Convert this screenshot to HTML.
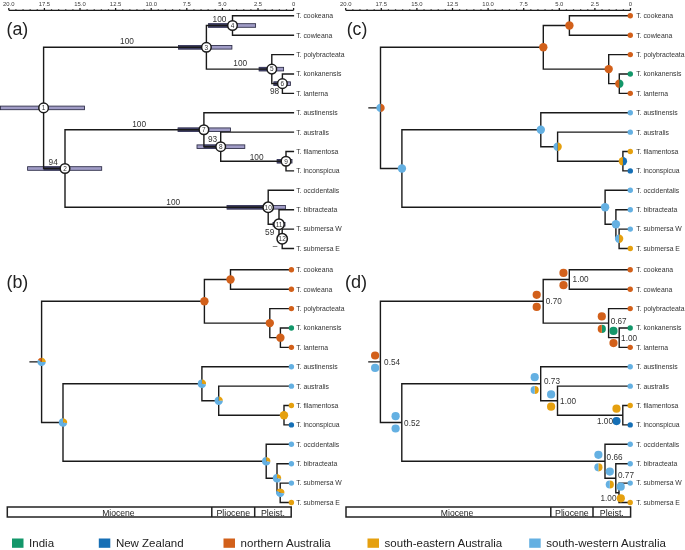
<!DOCTYPE html>
<html><head><meta charset="utf-8"><style>
html,body{margin:0;padding:0;background:#fff;}
body{width:685px;height:550px;overflow:hidden;font-family:"Liberation Sans",sans-serif;}
svg{display:block;will-change:transform;}
</style></head><body>
<svg width="685" height="550" viewBox="0 0 685 550" font-family="'Liberation Sans', sans-serif">
<rect width="685" height="550" fill="#fff"/>
<path d="M8.80 10.30H293.60M8.80 10.30V8.10M15.92 10.30V9.20M23.04 10.30V9.20M30.16 10.30V9.20M37.28 10.30V9.20M44.40 10.30V8.10M51.52 10.30V9.20M58.64 10.30V9.20M65.76 10.30V9.20M72.88 10.30V9.20M80.00 10.30V8.10M87.12 10.30V9.20M94.24 10.30V9.20M101.36 10.30V9.20M108.48 10.30V9.20M115.60 10.30V8.10M122.72 10.30V9.20M129.84 10.30V9.20M136.96 10.30V9.20M144.08 10.30V9.20M151.20 10.30V8.10M158.32 10.30V9.20M165.44 10.30V9.20M172.56 10.30V9.20M179.68 10.30V9.20M186.80 10.30V8.10M193.92 10.30V9.20M201.04 10.30V9.20M208.16 10.30V9.20M215.28 10.30V9.20M222.40 10.30V8.10M229.52 10.30V9.20M236.64 10.30V9.20M243.76 10.30V9.20M250.88 10.30V9.20M258.00 10.30V8.10M265.12 10.30V9.20M272.24 10.30V9.20M279.36 10.30V9.20M286.48 10.30V9.20M293.60 10.30V8.10" fill="none" stroke="#1a1a1a" stroke-width="1.25"/>
<text x="8.80" y="5.70" font-size="5.9" text-anchor="middle" fill="#3a3a3a">20.0</text>
<text x="44.40" y="5.70" font-size="5.9" text-anchor="middle" fill="#3a3a3a">17.5</text>
<text x="80.00" y="5.70" font-size="5.9" text-anchor="middle" fill="#3a3a3a">15.0</text>
<text x="115.60" y="5.70" font-size="5.9" text-anchor="middle" fill="#3a3a3a">12.5</text>
<text x="151.20" y="5.70" font-size="5.9" text-anchor="middle" fill="#3a3a3a">10.0</text>
<text x="186.80" y="5.70" font-size="5.9" text-anchor="middle" fill="#3a3a3a">7.5</text>
<text x="222.40" y="5.70" font-size="5.9" text-anchor="middle" fill="#3a3a3a">5.0</text>
<text x="258.00" y="5.70" font-size="5.9" text-anchor="middle" fill="#3a3a3a">2.5</text>
<text x="293.60" y="5.70" font-size="5.9" text-anchor="middle" fill="#3a3a3a">0</text>
<text x="6.50" y="35.20" font-size="17.5" text-anchor="start" fill="#222" textLength="21.8" lengthAdjust="spacingAndGlyphs">(a)</text>
<rect x="0.50" y="106.10" width="84.00" height="3.60" fill="#a09cc6" stroke="#2a2a44" stroke-width="0.85"/>
<rect x="27.60" y="166.70" width="74.10" height="3.60" fill="#a09cc6" stroke="#2a2a44" stroke-width="0.85"/>
<rect x="43.60" y="166.50" width="21.40" height="4.00" fill="#3e3e64"/>
<rect x="178.50" y="45.51" width="53.40" height="3.60" fill="#a09cc6" stroke="#2a2a44" stroke-width="0.85"/>
<rect x="178.50" y="45.31" width="27.90" height="4.00" fill="#3e3e64"/>
<rect x="208.40" y="23.69" width="47.20" height="3.60" fill="#a09cc6" stroke="#2a2a44" stroke-width="0.85"/>
<rect x="208.40" y="23.49" width="24.10" height="4.00" fill="#3e3e64"/>
<rect x="259.10" y="67.32" width="24.50" height="3.60" fill="#a09cc6" stroke="#2a2a44" stroke-width="0.85"/>
<rect x="259.10" y="67.12" width="12.70" height="4.00" fill="#3e3e64"/>
<rect x="273.80" y="81.86" width="16.60" height="3.60" fill="#a09cc6" stroke="#2a2a44" stroke-width="0.85"/>
<rect x="273.80" y="81.66" width="8.60" height="4.00" fill="#3e3e64"/>
<rect x="178.00" y="127.92" width="52.50" height="3.60" fill="#a09cc6" stroke="#2a2a44" stroke-width="0.85"/>
<rect x="178.00" y="127.72" width="25.90" height="4.00" fill="#3e3e64"/>
<rect x="197.00" y="144.88" width="47.80" height="3.60" fill="#a09cc6" stroke="#2a2a44" stroke-width="0.85"/>
<rect x="203.90" y="144.68" width="16.80" height="4.00" fill="#3e3e64"/>
<rect x="277.10" y="159.43" width="14.90" height="3.60" fill="#a09cc6" stroke="#2a2a44" stroke-width="0.85"/>
<rect x="277.10" y="159.23" width="8.90" height="4.00" fill="#3e3e64"/>
<rect x="227.00" y="205.48" width="58.40" height="3.60" fill="#a09cc6" stroke="#2a2a44" stroke-width="0.85"/>
<rect x="227.00" y="205.28" width="41.20" height="4.00" fill="#3e3e64"/>
<rect x="273.00" y="222.44" width="12.00" height="3.60" fill="#a09cc6" stroke="#2a2a44" stroke-width="0.85"/>
<rect x="273.00" y="222.24" width="6.00" height="4.00" fill="#3e3e64"/>
<path d="M206.40 47.31H43.60V168.50H65.00M203.90 129.72H65.00V207.28H268.20M232.50 25.49H206.40V69.12H271.80M293.40 15.80H232.50V35.19H293.40M293.40 54.58H271.80V83.66H282.40M293.40 73.97H282.40V93.36H293.40M293.40 112.75H203.90V146.68H220.70M293.40 132.14H220.70V161.23H286.00M293.40 151.53H286.00V170.92H293.40M293.40 190.31H268.20V224.24H279.00M293.40 209.70H279.00V238.79H282.20M293.40 229.09H282.20V248.48H293.40" fill="none" stroke="#1a1a1a" stroke-width="1.4" stroke-linejoin="miter" stroke-linecap="square"/>
<circle cx="43.60" cy="107.90" r="4.80" fill="#fff" stroke="#1a1a1a" stroke-width="1.5"/>
<text x="43.60" y="110.20" font-size="6.5" text-anchor="middle" fill="#333">1</text>
<circle cx="65.00" cy="168.50" r="4.80" fill="#fff" stroke="#1a1a1a" stroke-width="1.5"/>
<text x="65.00" y="170.80" font-size="6.5" text-anchor="middle" fill="#333">2</text>
<circle cx="206.40" cy="47.31" r="4.80" fill="#fff" stroke="#1a1a1a" stroke-width="1.5"/>
<text x="206.40" y="49.61" font-size="6.5" text-anchor="middle" fill="#333">3</text>
<circle cx="232.50" cy="25.49" r="4.80" fill="#fff" stroke="#1a1a1a" stroke-width="1.5"/>
<text x="232.50" y="27.79" font-size="6.5" text-anchor="middle" fill="#333">4</text>
<circle cx="271.80" cy="69.12" r="4.80" fill="#fff" stroke="#1a1a1a" stroke-width="1.5"/>
<text x="271.80" y="71.42" font-size="6.5" text-anchor="middle" fill="#333">5</text>
<circle cx="282.40" cy="83.66" r="4.80" fill="#fff" stroke="#1a1a1a" stroke-width="1.5"/>
<text x="282.40" y="85.96" font-size="6.5" text-anchor="middle" fill="#333">6</text>
<circle cx="203.90" cy="129.72" r="4.80" fill="#fff" stroke="#1a1a1a" stroke-width="1.5"/>
<text x="203.90" y="132.02" font-size="6.5" text-anchor="middle" fill="#333">7</text>
<circle cx="220.70" cy="146.68" r="4.80" fill="#fff" stroke="#1a1a1a" stroke-width="1.5"/>
<text x="220.70" y="148.98" font-size="6.5" text-anchor="middle" fill="#333">8</text>
<circle cx="286.00" cy="161.23" r="4.80" fill="#fff" stroke="#1a1a1a" stroke-width="1.5"/>
<text x="286.00" y="163.53" font-size="6.5" text-anchor="middle" fill="#333">9</text>
<circle cx="268.20" cy="207.28" r="5.20" fill="#fff" stroke="#1a1a1a" stroke-width="1.5"/>
<text x="268.20" y="209.58" font-size="6.5" text-anchor="middle" fill="#333">10</text>
<circle cx="279.00" cy="224.24" r="5.20" fill="#fff" stroke="#1a1a1a" stroke-width="1.5"/>
<text x="279.00" y="226.54" font-size="6.5" text-anchor="middle" fill="#333">11</text>
<circle cx="282.20" cy="238.79" r="5.20" fill="#fff" stroke="#1a1a1a" stroke-width="1.5"/>
<text x="282.20" y="241.09" font-size="6.5" text-anchor="middle" fill="#333">12</text>
<text x="127.00" y="44.40" font-size="8.3" text-anchor="middle" fill="#333">100</text>
<text x="219.50" y="22.10" font-size="8.3" text-anchor="middle" fill="#333">100</text>
<text x="240.20" y="66.40" font-size="8.3" text-anchor="middle" fill="#333">100</text>
<text x="274.60" y="94.30" font-size="8.3" text-anchor="middle" fill="#333">98</text>
<text x="139.10" y="127.20" font-size="8.3" text-anchor="middle" fill="#333">100</text>
<text x="212.60" y="141.70" font-size="8.3" text-anchor="middle" fill="#333">93</text>
<text x="256.60" y="159.70" font-size="8.3" text-anchor="middle" fill="#333">100</text>
<text x="53.20" y="165.20" font-size="8.3" text-anchor="middle" fill="#333">94</text>
<text x="173.20" y="204.90" font-size="8.3" text-anchor="middle" fill="#333">100</text>
<text x="269.70" y="234.70" font-size="8.3" text-anchor="middle" fill="#333">59</text>
<text x="275.00" y="249.00" font-size="8.3" text-anchor="middle" fill="#333">&#8211;</text>
<text x="296.20" y="18.20" font-size="6.85" text-anchor="start" fill="#333">T. cookeana</text>
<text x="296.20" y="37.59" font-size="6.85" text-anchor="start" fill="#333">T. cowieana</text>
<text x="296.20" y="56.98" font-size="6.85" text-anchor="start" fill="#333">T. polybracteata</text>
<text x="296.20" y="76.37" font-size="6.85" text-anchor="start" fill="#333">T. konkanensis</text>
<text x="296.20" y="95.76" font-size="6.85" text-anchor="start" fill="#333">T. lanterna</text>
<text x="296.20" y="115.15" font-size="6.85" text-anchor="start" fill="#333">T. austinensis</text>
<text x="296.20" y="134.54" font-size="6.85" text-anchor="start" fill="#333">T. australis</text>
<text x="296.20" y="153.93" font-size="6.85" text-anchor="start" fill="#333">T. filamentosa</text>
<text x="296.20" y="173.32" font-size="6.85" text-anchor="start" fill="#333">T. inconspicua</text>
<text x="296.20" y="192.71" font-size="6.85" text-anchor="start" fill="#333">T. occidentalis</text>
<text x="296.20" y="212.10" font-size="6.85" text-anchor="start" fill="#333">T. bibracteata</text>
<text x="296.20" y="231.49" font-size="6.85" text-anchor="start" fill="#333">T. submersa W</text>
<text x="296.20" y="250.88" font-size="6.85" text-anchor="start" fill="#333">T. submersa E</text>
<path d="M345.70 10.30H630.50M345.70 10.30V8.10M352.82 10.30V9.20M359.94 10.30V9.20M367.06 10.30V9.20M374.18 10.30V9.20M381.30 10.30V8.10M388.42 10.30V9.20M395.54 10.30V9.20M402.66 10.30V9.20M409.78 10.30V9.20M416.90 10.30V8.10M424.02 10.30V9.20M431.14 10.30V9.20M438.26 10.30V9.20M445.38 10.30V9.20M452.50 10.30V8.10M459.62 10.30V9.20M466.74 10.30V9.20M473.86 10.30V9.20M480.98 10.30V9.20M488.10 10.30V8.10M495.22 10.30V9.20M502.34 10.30V9.20M509.46 10.30V9.20M516.58 10.30V9.20M523.70 10.30V8.10M530.82 10.30V9.20M537.94 10.30V9.20M545.06 10.30V9.20M552.18 10.30V9.20M559.30 10.30V8.10M566.42 10.30V9.20M573.54 10.30V9.20M580.66 10.30V9.20M587.78 10.30V9.20M594.90 10.30V8.10M602.02 10.30V9.20M609.14 10.30V9.20M616.26 10.30V9.20M623.38 10.30V9.20M630.50 10.30V8.10" fill="none" stroke="#1a1a1a" stroke-width="1.25"/>
<text x="345.70" y="5.70" font-size="5.9" text-anchor="middle" fill="#3a3a3a">20.0</text>
<text x="381.30" y="5.70" font-size="5.9" text-anchor="middle" fill="#3a3a3a">17.5</text>
<text x="416.90" y="5.70" font-size="5.9" text-anchor="middle" fill="#3a3a3a">15.0</text>
<text x="452.50" y="5.70" font-size="5.9" text-anchor="middle" fill="#3a3a3a">12.5</text>
<text x="488.10" y="5.70" font-size="5.9" text-anchor="middle" fill="#3a3a3a">10.0</text>
<text x="523.70" y="5.70" font-size="5.9" text-anchor="middle" fill="#3a3a3a">7.5</text>
<text x="559.30" y="5.70" font-size="5.9" text-anchor="middle" fill="#3a3a3a">5.0</text>
<text x="594.90" y="5.70" font-size="5.9" text-anchor="middle" fill="#3a3a3a">2.5</text>
<text x="630.50" y="5.70" font-size="5.9" text-anchor="middle" fill="#3a3a3a">0</text>
<text x="346.70" y="35.20" font-size="17.5" text-anchor="start" fill="#222" textLength="20.6" lengthAdjust="spacingAndGlyphs">(c)</text>
<path d="M543.30 47.31H380.50V168.50H401.90M540.80 129.72H401.90V207.28H605.10M569.40 25.49H543.30V69.12H608.70M630.30 15.80H569.40V35.19H630.30M630.30 54.58H608.70V83.66H619.30M630.30 73.97H619.30V93.36H630.30M630.30 112.75H540.80V146.68H557.60M630.30 132.14H557.60V161.23H622.90M630.30 151.53H622.90V170.92H630.30M630.30 190.31H605.10V224.24H615.90M630.30 209.70H615.90V238.79H619.10M630.30 229.09H619.10V248.48H630.30M369.00 107.90H380.50" fill="none" stroke="#1a1a1a" stroke-width="1.4" stroke-linejoin="miter" stroke-linecap="square"/>
<path d="M380.50 107.90L380.50 103.70A4.20 4.20 0 0 1 380.50 112.10Z" fill="#d2601a"/>
<path d="M380.50 107.90L380.50 112.10A4.20 4.20 0 0 1 380.50 103.70Z" fill="#64b0e2"/>
<circle cx="401.90" cy="168.50" r="4.20" fill="#64b0e2"/>
<circle cx="543.30" cy="47.31" r="4.20" fill="#d2601a"/>
<circle cx="569.40" cy="25.49" r="4.20" fill="#d2601a"/>
<circle cx="608.70" cy="69.12" r="4.20" fill="#d2601a"/>
<path d="M619.30 83.66L619.30 79.46A4.20 4.20 0 0 1 619.30 87.86Z" fill="#13976a"/>
<path d="M619.30 83.66L619.30 87.86A4.20 4.20 0 0 1 619.30 79.46Z" fill="#d2601a"/>
<circle cx="540.80" cy="129.72" r="4.20" fill="#64b0e2"/>
<path d="M557.60 146.68L557.60 142.48A4.20 4.20 0 0 1 557.60 150.88Z" fill="#e5a00f"/>
<path d="M557.60 146.68L557.60 150.88A4.20 4.20 0 0 1 557.60 142.48Z" fill="#64b0e2"/>
<path d="M622.90 161.23L622.90 157.03A4.20 4.20 0 0 1 622.90 165.43Z" fill="#166fb5"/>
<path d="M622.90 161.23L622.90 165.43A4.20 4.20 0 0 1 622.90 157.03Z" fill="#e5a00f"/>
<circle cx="605.10" cy="207.28" r="4.20" fill="#64b0e2"/>
<circle cx="615.90" cy="224.24" r="4.20" fill="#64b0e2"/>
<path d="M619.10 238.79L619.10 234.59A4.20 4.20 0 0 1 619.10 242.99Z" fill="#e5a00f"/>
<path d="M619.10 238.79L619.10 242.99A4.20 4.20 0 0 1 619.10 234.59Z" fill="#64b0e2"/>
<circle cx="630.30" cy="15.80" r="2.7" fill="#d2601a"/>
<circle cx="630.30" cy="35.19" r="2.7" fill="#d2601a"/>
<circle cx="630.30" cy="54.58" r="2.7" fill="#d2601a"/>
<circle cx="630.30" cy="73.97" r="2.7" fill="#13976a"/>
<circle cx="630.30" cy="93.36" r="2.7" fill="#d2601a"/>
<circle cx="630.30" cy="112.75" r="2.7" fill="#64b0e2"/>
<circle cx="630.30" cy="132.14" r="2.7" fill="#64b0e2"/>
<circle cx="630.30" cy="151.53" r="2.7" fill="#e5a00f"/>
<circle cx="630.30" cy="170.92" r="2.7" fill="#166fb5"/>
<circle cx="630.30" cy="190.31" r="2.7" fill="#64b0e2"/>
<circle cx="630.30" cy="209.70" r="2.7" fill="#64b0e2"/>
<circle cx="630.30" cy="229.09" r="2.7" fill="#64b0e2"/>
<circle cx="630.30" cy="248.48" r="2.7" fill="#e5a00f"/>
<text x="636.20" y="18.20" font-size="6.85" text-anchor="start" fill="#333">T. cookeana</text>
<text x="636.20" y="37.59" font-size="6.85" text-anchor="start" fill="#333">T. cowieana</text>
<text x="636.20" y="56.98" font-size="6.85" text-anchor="start" fill="#333">T. polybracteata</text>
<text x="636.20" y="76.37" font-size="6.85" text-anchor="start" fill="#333">T. konkanensis</text>
<text x="636.20" y="95.76" font-size="6.85" text-anchor="start" fill="#333">T. lanterna</text>
<text x="636.20" y="115.15" font-size="6.85" text-anchor="start" fill="#333">T. austinensis</text>
<text x="636.20" y="134.54" font-size="6.85" text-anchor="start" fill="#333">T. australis</text>
<text x="636.20" y="153.93" font-size="6.85" text-anchor="start" fill="#333">T. filamentosa</text>
<text x="636.20" y="173.32" font-size="6.85" text-anchor="start" fill="#333">T. inconspicua</text>
<text x="636.20" y="192.71" font-size="6.85" text-anchor="start" fill="#333">T. occidentalis</text>
<text x="636.20" y="212.10" font-size="6.85" text-anchor="start" fill="#333">T. bibracteata</text>
<text x="636.20" y="231.49" font-size="6.85" text-anchor="start" fill="#333">T. submersa W</text>
<text x="636.20" y="250.88" font-size="6.85" text-anchor="start" fill="#333">T. submersa E</text>
<text x="6.50" y="288.30" font-size="17.5" text-anchor="start" fill="#222" textLength="21.8" lengthAdjust="spacingAndGlyphs">(b)</text>
<path d="M204.40 301.31H41.60V422.50H63.00M201.90 383.72H63.00V461.28H266.20M230.50 279.50H204.40V323.12H269.80M291.40 269.80H230.50V289.19H291.40M291.40 308.58H269.80V337.66H280.40M291.40 327.97H280.40V347.36H291.40M291.40 366.75H201.90V400.68H218.70M291.40 386.14H218.70V415.23H284.00M291.40 405.53H284.00V424.92H291.40M291.40 444.31H266.20V478.24H277.00M291.40 463.70H277.00V492.79H280.20M291.40 483.09H280.20V502.48H291.40M30.10 361.90H41.60" fill="none" stroke="#1a1a1a" stroke-width="1.4" stroke-linejoin="miter" stroke-linecap="square"/>
<path d="M41.60 361.90L41.45 357.71A4.20 4.20 0 0 1 45.80 362.05Z" fill="#e5a00f"/>
<path d="M41.60 361.90L45.80 362.05A4.20 4.20 0 1 1 37.96 359.80Z" fill="#64b0e2"/>
<path d="M41.60 361.90L37.96 359.80A4.20 4.20 0 0 1 41.45 357.71Z" fill="#d2601a"/>
<path d="M63.00 422.50L63.00 418.30A4.20 4.20 0 0 1 67.14 423.23Z" fill="#e5a00f"/>
<path d="M63.00 422.50L67.14 423.23A4.20 4.20 0 1 1 63.00 418.30Z" fill="#64b0e2"/>
<circle cx="204.40" cy="301.31" r="4.20" fill="#d2601a"/>
<circle cx="230.50" cy="279.50" r="4.20" fill="#d2601a"/>
<circle cx="269.80" cy="323.12" r="4.20" fill="#d2601a"/>
<circle cx="280.40" cy="337.66" r="4.20" fill="#d2601a"/>
<path d="M201.90 383.72L201.90 379.52A4.20 4.20 0 0 1 206.04 384.45Z" fill="#e5a00f"/>
<path d="M201.90 383.72L206.04 384.45A4.20 4.20 0 1 1 201.90 379.52Z" fill="#64b0e2"/>
<path d="M218.70 400.68L218.70 396.48A4.20 4.20 0 0 1 222.90 400.68Z" fill="#e5a00f"/>
<path d="M218.70 400.68L222.90 400.68A4.20 4.20 0 1 1 218.70 396.48Z" fill="#64b0e2"/>
<circle cx="284.00" cy="415.23" r="4.20" fill="#e5a00f"/>
<path d="M266.20 461.28L266.20 457.08A4.20 4.20 0 0 1 270.34 462.01Z" fill="#e5a00f"/>
<path d="M266.20 461.28L270.34 462.01A4.20 4.20 0 1 1 266.20 457.08Z" fill="#64b0e2"/>
<path d="M277.00 478.24L277.00 474.04A4.20 4.20 0 0 1 281.14 478.97Z" fill="#e5a00f"/>
<path d="M277.00 478.24L281.14 478.97A4.20 4.20 0 1 1 277.00 474.04Z" fill="#64b0e2"/>
<path d="M280.20 492.79L276.56 490.69A4.20 4.20 0 0 1 284.34 493.51Z" fill="#e5a00f"/>
<path d="M280.20 492.79L284.34 493.51A4.20 4.20 0 1 1 276.56 490.69Z" fill="#64b0e2"/>
<circle cx="291.40" cy="269.80" r="2.7" fill="#d2601a"/>
<circle cx="291.40" cy="289.19" r="2.7" fill="#d2601a"/>
<circle cx="291.40" cy="308.58" r="2.7" fill="#d2601a"/>
<circle cx="291.40" cy="327.97" r="2.7" fill="#13976a"/>
<circle cx="291.40" cy="347.36" r="2.7" fill="#d2601a"/>
<circle cx="291.40" cy="366.75" r="2.7" fill="#64b0e2"/>
<circle cx="291.40" cy="386.14" r="2.7" fill="#64b0e2"/>
<circle cx="291.40" cy="405.53" r="2.7" fill="#e5a00f"/>
<circle cx="291.40" cy="424.92" r="2.7" fill="#166fb5"/>
<circle cx="291.40" cy="444.31" r="2.7" fill="#64b0e2"/>
<circle cx="291.40" cy="463.70" r="2.7" fill="#64b0e2"/>
<circle cx="291.40" cy="483.09" r="2.7" fill="#64b0e2"/>
<circle cx="291.40" cy="502.48" r="2.7" fill="#e5a00f"/>
<text x="296.20" y="272.20" font-size="6.85" text-anchor="start" fill="#333">T. cookeana</text>
<text x="296.20" y="291.59" font-size="6.85" text-anchor="start" fill="#333">T. cowieana</text>
<text x="296.20" y="310.98" font-size="6.85" text-anchor="start" fill="#333">T. polybracteata</text>
<text x="296.20" y="330.37" font-size="6.85" text-anchor="start" fill="#333">T. konkanensis</text>
<text x="296.20" y="349.76" font-size="6.85" text-anchor="start" fill="#333">T. lanterna</text>
<text x="296.20" y="369.15" font-size="6.85" text-anchor="start" fill="#333">T. austinensis</text>
<text x="296.20" y="388.54" font-size="6.85" text-anchor="start" fill="#333">T. australis</text>
<text x="296.20" y="407.93" font-size="6.85" text-anchor="start" fill="#333">T. filamentosa</text>
<text x="296.20" y="427.32" font-size="6.85" text-anchor="start" fill="#333">T. inconspicua</text>
<text x="296.20" y="446.71" font-size="6.85" text-anchor="start" fill="#333">T. occidentalis</text>
<text x="296.20" y="466.10" font-size="6.85" text-anchor="start" fill="#333">T. bibracteata</text>
<text x="296.20" y="485.49" font-size="6.85" text-anchor="start" fill="#333">T. submersa W</text>
<text x="296.20" y="504.88" font-size="6.85" text-anchor="start" fill="#333">T. submersa E</text>
<text x="344.90" y="288.30" font-size="17.5" text-anchor="start" fill="#222" textLength="22.2" lengthAdjust="spacingAndGlyphs">(d)</text>
<path d="M543.20 301.31H380.40V422.50H401.80M540.70 383.72H401.80V461.28H605.00M569.30 279.50H543.20V323.12H608.60M630.20 269.80H569.30V289.19H630.20M630.20 308.58H608.60V337.66H619.20M630.20 327.97H619.20V347.36H630.20M630.20 366.75H540.70V400.68H557.50M630.20 386.14H557.50V415.23H622.80M630.20 405.53H622.80V424.92H630.20M630.20 444.31H605.00V478.24H615.80M630.20 463.70H615.80V492.79H619.00M630.20 483.09H619.00V502.48H630.20M368.90 361.90H380.40" fill="none" stroke="#1a1a1a" stroke-width="1.4" stroke-linejoin="miter" stroke-linecap="square"/>
<circle cx="375.10" cy="355.50" r="4.10" fill="#d2601a"/>
<circle cx="375.10" cy="367.90" r="4.10" fill="#64b0e2"/>
<circle cx="395.60" cy="416.20" r="4.10" fill="#64b0e2"/>
<circle cx="395.60" cy="428.50" r="4.10" fill="#64b0e2"/>
<circle cx="536.70" cy="294.80" r="4.10" fill="#d2601a"/>
<circle cx="536.70" cy="306.90" r="4.10" fill="#d2601a"/>
<circle cx="563.50" cy="272.90" r="4.10" fill="#d2601a"/>
<circle cx="563.50" cy="285.20" r="4.10" fill="#d2601a"/>
<circle cx="601.80" cy="316.40" r="4.10" fill="#d2601a"/>
<path d="M601.80 328.90L601.80 324.80A4.10 4.10 0 0 1 601.80 333.00Z" fill="#13976a"/>
<path d="M601.80 328.90L601.80 333.00A4.10 4.10 0 0 1 601.80 324.80Z" fill="#d2601a"/>
<circle cx="613.50" cy="330.90" r="4.10" fill="#13976a"/>
<circle cx="613.50" cy="343.10" r="4.10" fill="#d2601a"/>
<circle cx="534.70" cy="377.20" r="4.10" fill="#64b0e2"/>
<path d="M534.70 390.00L534.70 385.90A4.10 4.10 0 0 1 534.70 394.10Z" fill="#e5a00f"/>
<path d="M534.70 390.00L534.70 394.10A4.10 4.10 0 0 1 534.70 385.90Z" fill="#64b0e2"/>
<circle cx="551.10" cy="394.40" r="4.10" fill="#64b0e2"/>
<circle cx="551.10" cy="406.70" r="4.10" fill="#e5a00f"/>
<circle cx="616.50" cy="408.70" r="4.10" fill="#e5a00f"/>
<circle cx="616.50" cy="421.10" r="4.10" fill="#166fb5"/>
<circle cx="598.40" cy="454.80" r="4.10" fill="#64b0e2"/>
<path d="M598.40 467.30L598.40 463.20A4.10 4.10 0 0 1 598.40 471.40Z" fill="#e5a00f"/>
<path d="M598.40 467.30L598.40 471.40A4.10 4.10 0 0 1 598.40 463.20Z" fill="#64b0e2"/>
<circle cx="609.80" cy="471.60" r="4.10" fill="#64b0e2"/>
<path d="M609.80 484.50L609.80 480.40A4.10 4.10 0 0 1 609.80 488.60Z" fill="#e5a00f"/>
<path d="M609.80 484.50L609.80 488.60A4.10 4.10 0 0 1 609.80 480.40Z" fill="#64b0e2"/>
<circle cx="620.70" cy="486.70" r="4.10" fill="#64b0e2"/>
<circle cx="620.80" cy="498.30" r="4.10" fill="#e5a00f"/>
<circle cx="630.20" cy="269.80" r="2.7" fill="#d2601a"/>
<circle cx="630.20" cy="289.19" r="2.7" fill="#d2601a"/>
<circle cx="630.20" cy="308.58" r="2.7" fill="#d2601a"/>
<circle cx="630.20" cy="327.97" r="2.7" fill="#13976a"/>
<circle cx="630.20" cy="347.36" r="2.7" fill="#d2601a"/>
<circle cx="630.20" cy="366.75" r="2.7" fill="#64b0e2"/>
<circle cx="630.20" cy="386.14" r="2.7" fill="#64b0e2"/>
<circle cx="630.20" cy="405.53" r="2.7" fill="#e5a00f"/>
<circle cx="630.20" cy="424.92" r="2.7" fill="#166fb5"/>
<circle cx="630.20" cy="444.31" r="2.7" fill="#64b0e2"/>
<circle cx="630.20" cy="463.70" r="2.7" fill="#64b0e2"/>
<circle cx="630.20" cy="483.09" r="2.7" fill="#64b0e2"/>
<circle cx="630.20" cy="502.48" r="2.7" fill="#e5a00f"/>
<text x="636.20" y="272.20" font-size="6.85" text-anchor="start" fill="#333">T. cookeana</text>
<text x="636.20" y="291.59" font-size="6.85" text-anchor="start" fill="#333">T. cowieana</text>
<text x="636.20" y="310.98" font-size="6.85" text-anchor="start" fill="#333">T. polybracteata</text>
<text x="636.20" y="330.37" font-size="6.85" text-anchor="start" fill="#333">T. konkanensis</text>
<text x="636.20" y="349.76" font-size="6.85" text-anchor="start" fill="#333">T. lanterna</text>
<text x="636.20" y="369.15" font-size="6.85" text-anchor="start" fill="#333">T. austinensis</text>
<text x="636.20" y="388.54" font-size="6.85" text-anchor="start" fill="#333">T. australis</text>
<text x="636.20" y="407.93" font-size="6.85" text-anchor="start" fill="#333">T. filamentosa</text>
<text x="636.20" y="427.32" font-size="6.85" text-anchor="start" fill="#333">T. inconspicua</text>
<text x="636.20" y="446.71" font-size="6.85" text-anchor="start" fill="#333">T. occidentalis</text>
<text x="636.20" y="466.10" font-size="6.85" text-anchor="start" fill="#333">T. bibracteata</text>
<text x="636.20" y="485.49" font-size="6.85" text-anchor="start" fill="#333">T. submersa W</text>
<text x="636.20" y="504.88" font-size="6.85" text-anchor="start" fill="#333">T. submersa E</text>
<text x="384.10" y="364.50" font-size="8.2" text-anchor="start" fill="#333">0.54</text>
<text x="404.10" y="425.90" font-size="8.2" text-anchor="start" fill="#333">0.52</text>
<text x="545.80" y="304.30" font-size="8.2" text-anchor="start" fill="#333">0.70</text>
<text x="572.60" y="282.10" font-size="8.2" text-anchor="start" fill="#333">1.00</text>
<text x="610.70" y="324.20" font-size="8.2" text-anchor="start" fill="#333">0.67</text>
<text x="621.10" y="341.10" font-size="8.2" text-anchor="start" fill="#333">1.00</text>
<text x="544.00" y="384.20" font-size="8.2" text-anchor="start" fill="#333">0.73</text>
<text x="560.10" y="404.10" font-size="8.2" text-anchor="start" fill="#333">1.00</text>
<text x="597.00" y="424.00" font-size="8.2" text-anchor="start" fill="#333">1.00</text>
<text x="606.60" y="460.40" font-size="8.2" text-anchor="start" fill="#333">0.66</text>
<text x="618.00" y="477.70" font-size="8.2" text-anchor="start" fill="#333">0.77</text>
<text x="600.50" y="500.90" font-size="8.2" text-anchor="start" fill="#333">1.00</text>
<rect x="7.30" y="507" width="283.90" height="10" fill="none" stroke="#222" stroke-width="1.5"/>
<path d="M211.80 507V517M254.70 507V517" stroke="#222" stroke-width="1.5"/>
<text x="118.40" y="516.10" font-size="8.6" text-anchor="middle" fill="#222">Miocene</text>
<text x="233.25" y="516.10" font-size="8.8" text-anchor="middle" fill="#222">Pliocene</text>
<text x="272.95" y="516.10" font-size="8.8" text-anchor="middle" fill="#222">Pleist.</text>
<rect x="346.00" y="507" width="284.60" height="10" fill="none" stroke="#222" stroke-width="1.5"/>
<path d="M550.80 507V517M593.00 507V517" stroke="#222" stroke-width="1.5"/>
<text x="457.10" y="516.10" font-size="8.6" text-anchor="middle" fill="#222">Miocene</text>
<text x="571.90" y="516.10" font-size="8.8" text-anchor="middle" fill="#222">Pliocene</text>
<text x="611.80" y="516.10" font-size="8.8" text-anchor="middle" fill="#222">Pleist.</text>
<rect x="12.00" y="538.5" width="11.5" height="9.3" fill="#13976a"/>
<text x="29.10" y="547.20" font-size="11.5" text-anchor="start" fill="#222">India</text>
<rect x="98.80" y="538.5" width="11.5" height="9.3" fill="#166fb5"/>
<text x="115.90" y="547.20" font-size="11.5" text-anchor="start" fill="#222">New Zealand</text>
<rect x="223.50" y="538.5" width="11.5" height="9.3" fill="#d2601a"/>
<text x="240.60" y="547.20" font-size="11.5" text-anchor="start" fill="#222">northern Australia</text>
<rect x="367.50" y="538.5" width="11.5" height="9.3" fill="#e5a00f"/>
<text x="384.60" y="547.20" font-size="11.5" text-anchor="start" fill="#222">south-eastern Australia</text>
<rect x="529.20" y="538.5" width="11.5" height="9.3" fill="#64b0e2"/>
<text x="546.30" y="547.20" font-size="11.5" text-anchor="start" fill="#222">south-western Australia</text>
</svg>
</body></html>
